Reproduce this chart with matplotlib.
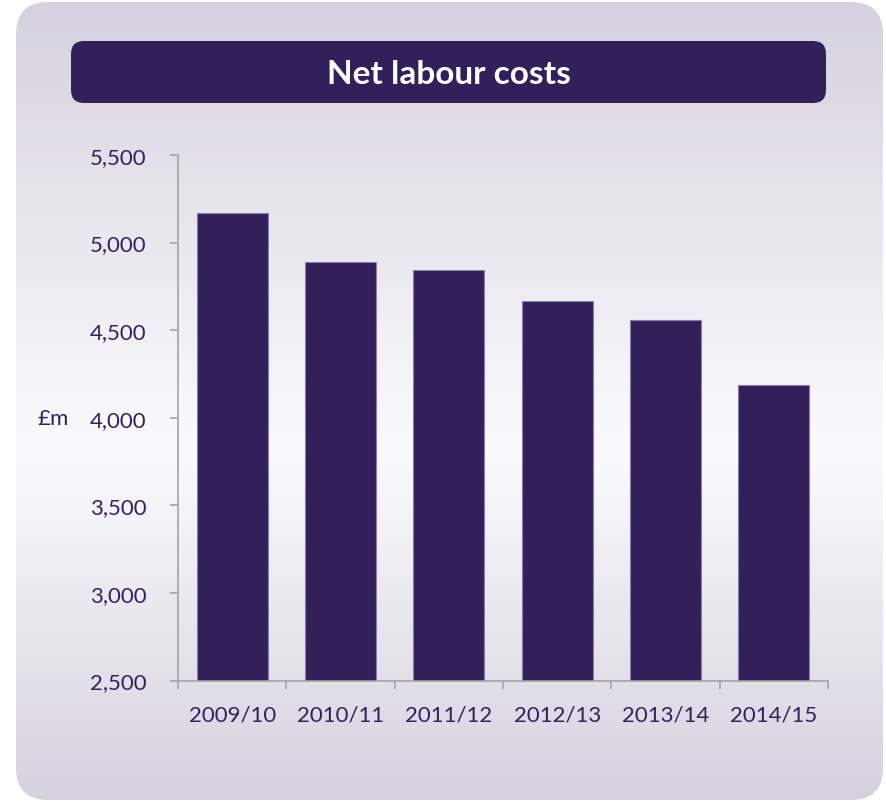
import numpy as np
import matplotlib
matplotlib.use("Agg")
import matplotlib.pyplot as plt
from matplotlib.patches import FancyBboxPatch
from matplotlib.ticker import FixedLocator, FuncFormatter

# chart data
years = ["2009/10", "2010/11", "2011/12", "2012/13", "2013/14", "2014/15"]
costs = [5170, 4887, 4842, 4665, 4556, 4185]
y_ticks = [2500, 3000, 3500, 4000, 4500, 5000, 5500]

W, H = 886, 803
purple = "#331f5a"
text_col = "#34205c"
grey = "#a3a3a3"
font = "Lato"

fig = plt.figure(figsize=(W / 100, H / 100), dpi=100)
fig.patch.set_facecolor("white")

# background panel, drawn in pixel coordinates
bg = fig.add_axes([0, 0, 1, 1], zorder=0)
bg.set_xlim(0, W)
bg.set_ylim(H, 0)
bg.axis("off")

panel = FancyBboxPatch((16, 3), 867, 798, boxstyle="round,pad=0,rounding_size=32",
                       facecolor="none", edgecolor="none")
bg.add_patch(panel)
# vertical gradient: lavender top and bottom, almost white in the middle
stops_y = [0, 450, H]
stops_c = np.array([[213, 209, 223], [251, 251, 253], [213, 209, 223]]) / 255
rows = np.arange(H)
grad = np.stack([np.interp(rows, stops_y, stops_c[:, k]) for k in range(3)], axis=1)
grad = np.repeat(grad[:, None, :], 4, axis=1)
im = bg.imshow(grad, extent=[0, W, H, 0], aspect="auto", interpolation="bilinear")
im.set_clip_path(panel)

# title box
title_box = FancyBboxPatch((71, 42), 755, 62, boxstyle="round,pad=0,rounding_size=13",
                           facecolor=purple, edgecolor="none")
bg.add_patch(title_box)
bg.text(449, 74, "Net labour costs", color="white", fontsize=24, fontweight="bold",
        family=font, ha="center", va="center")

# bar chart
ax = fig.add_axes([178 / W, 1 - 681.5 / H, (828 - 178) / W, (681.5 - 156) / H], zorder=1)
ax.patch.set_alpha(0)
x = np.arange(len(years))
ax.bar(x, costs, width=0.656, color=purple, edgecolor="#8a7db0", linewidth=0.8)
ax.set_xlim(-0.5, len(years) - 0.5)
ax.set_ylim(y_ticks[0], y_ticks[-1])

for s in ["top", "right"]:
    ax.spines[s].set_visible(False)
for s in ["left", "bottom"]:
    ax.spines[s].set_color(grey)
    ax.spines[s].set_linewidth(1.2)

ax.yaxis.set_major_locator(FixedLocator(y_ticks))
ax.yaxis.set_major_formatter(FuncFormatter(lambda v, p: f"{int(v):,}"))
ax.tick_params(axis="y", length=6, width=1.2, color=grey, pad=16.5,
               labelsize=16, labelcolor=text_col)

ax.set_xticks(x)
ax.set_xticklabels(years)
ax.set_xticks(np.arange(len(years) + 1) - 0.5, minor=True)
ax.tick_params(axis="x", which="major", length=0, pad=17, labelsize=16, labelcolor=text_col)
ax.tick_params(axis="x", which="minor", length=6, width=1.2, color=grey)

for lab in ax.get_xticklabels() + ax.get_yticklabels():
    lab.set_family(font)

fig.text(37 / W, 1 - 419 / H, "£m", color=text_col, fontsize=16, family=font,
         ha="left", va="center")

fig.savefig("out.png", dpi=100)
